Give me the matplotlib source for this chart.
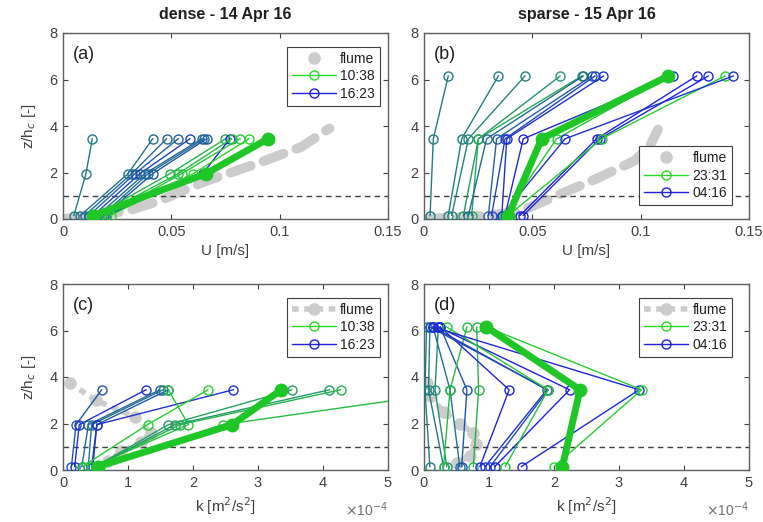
import numpy as np
import matplotlib
matplotlib.use("Agg")
import matplotlib.pyplot as plt
from matplotlib.lines import Line2D
from matplotlib.ticker import FuncFormatter

plt.rcParams['font.family'] = ['Liberation Sans', 'DejaVu Sans']

# measurement heights (z/hc)
z_dense = [0.15, 1.95, 3.45]
z_sparse = [0.15, 3.45, 6.15]

# (a) dense, U [m/s]: bottom / middle / top value, colour position (0 = first, 1 = last)
a_bot = [0.005, 0.008, 0.010, 0.012, 0.014, 0.016, 0.018, 0.019, 0.015, 0.020, 0.017, 0.020, 0.022]
a_mid = [0.0106, 0.030, 0.0317, 0.0332, 0.0355, 0.0378, 0.0394, 0.0414, 0.0494, 0.0645, 0.0532, 0.0548, 0.0601]
a_top = [0.0135, 0.0414, 0.0478, 0.0532, 0.0586, 0.064, 0.0651, 0.0663, 0.075, 0.077, 0.0778, 0.0817, 0.0858]
a_col = [0.5, 0.55, 0.6, 0.65, 0.8, 0.6, 0.55, 0.7, 0.2, 1.0, 0.15, 0.1, 0.0]
a_thick = [0.014, 0.066, 0.0946]
a_flume_u = [0.0, 0.015, 0.03, 0.045, 0.065, 0.09, 0.11, 0.123]
a_flume_z = [0.0, 0.15, 0.35, 0.8, 1.6, 2.4, 3.1, 3.9]

# (b) sparse, U [m/s]
b_bot = [0.0028, 0.0112, 0.0128, 0.0182, 0.022, 0.0205, 0.0297, 0.0312, 0.0359, 0.0374, 0.0443, 0.0458, 0.0389, 0.037, 0.036]
b_mid = [0.0043, 0.0174, 0.0205, 0.0251, 0.0251, 0.0289, 0.0335, 0.0374, 0.0382, 0.0458, 0.0797, 0.0812, 0.082, 0.0612, 0.0651]
b_top = [0.0112, 0.0343, 0.0466, 0.0628, 0.0728, 0.0735, 0.0774, 0.0789, 0.0828, 0.115, 0.1258, 0.1312, 0.1389, 0.113, 0.1427]
b_col = [0.5, 0.5, 0.45, 0.35, 0.25, 0.6, 0.65, 0.8, 0.9, 0.95, 1.0, 0.95, 0.05, 0.1, 0.9]
b_thick = [0.0389, 0.0543, 0.1128]
b_flume_u = [0.0, 0.01, 0.03, 0.045, 0.06, 0.08, 0.097, 0.104, 0.108]
b_flume_z = [0.0, 0.05, 0.15, 0.35, 0.95, 1.75, 2.5, 3.1, 3.85]

# (c) dense, k [1e-4 m2/s2]
c_bot = [0.13, 0.18, 0.29, 0.39, 0.44, 0.46, 0.30, 0.45, 0.50, 0.50, 0.50, 0.54]
c_mid = [0.20, 0.25, 0.39, 0.44, 0.52, 0.52, 1.30, 1.93, 1.62, 1.72, 1.80, 2.46]
c_top = [0.595, 1.277, 1.49, 1.54, 1.62, 2.62, 2.23, 1.62, 3.52, 4.10, 4.27, 6.24]
c_col = [0.7, 0.9, 0.6, 0.55, 0.7, 0.9, 0.05, 0.1, 0.3, 0.35, 0.2, 0.15]
c_thick = [0.54, 2.60, 3.36]
c_flume_k = [0.1, 0.5, 1.1, 1.35, 1.2, 0.9, 0.7]
c_flume_z = [3.75, 3.0, 2.3, 1.6, 1.2, 0.8, 0.4]

# (d) sparse, k [1e-4 m2/s2]
d_bot = [0.09, 0.30, 0.35, 0.55, 0.58, 0.76, 0.30, 0.86, 0.94, 1.02, 1.09, 1.25, 1.50, 2.00]
d_mid = [0.015, 0.07, 0.17, 0.40, 0.66, 0.84, 0.40, 1.31, 1.89, 1.91, 2.24, 1.91, 3.31, 3.35]
d_top = [0.04, 0.09, 0.22, 0.14, 0.25, 0.81, 0.66, 0.25, 0.14, 0.09, 0.22, 0.35, 0.14, 0.96]
d_col = [0.5, 0.5, 0.4, 0.55, 0.7, 0.2, 0.15, 0.95, 0.9, 0.75, 1.0, 0.1, 0.95, 0.05]
d_thick = [2.13, 2.40, 0.96]
d_flume_k = [0.05, 0.1, 0.3, 0.55, 0.75, 0.8, 0.7, 0.5]
d_flume_z = [3.75, 3.2, 2.5, 2.0, 1.6, 1.1, 0.6, 0.3]

legend_times = [["10:38", "16:23"], ["23:31", "04:16"]]

green = np.array([0.15, 0.85, 0.15])
blue = np.array([0.12, 0.12, 0.88])
thick_green = (0.12, 0.78, 0.15)
flume_col = (0.80, 0.80, 0.80)
axcol = '#606060'
txtcol = '#404040'


def shade(t):
    return tuple(green * (1 - t) + blue * t)


fig = plt.figure(figsize=(7.63, 5.22), dpi=100)
W, H = 763.0, 522.0
boxes = [(63, 33), (424, 33), (63, 284), (424, 284)]
axes = []
for (x0, y0) in boxes:
    ax = fig.add_axes([x0 / W, 1 - (y0 + 186) / H, 325 / W, 186 / H])
    axes.append(ax)

panels = [
    (a_bot, a_mid, a_top, a_col, a_thick, z_dense, a_flume_u, a_flume_z),
    (b_bot, b_mid, b_top, b_col, b_thick, z_sparse, b_flume_u, b_flume_z),
    (c_bot, c_mid, c_top, c_col, c_thick, z_dense, c_flume_k, c_flume_z),
    (d_bot, d_mid, d_top, d_col, d_thick, z_sparse, d_flume_k, d_flume_z),
]
letters = ['(a)', '(b)', '(c)', '(d)']

for i, (ax, p) in enumerate(zip(axes, panels)):
    bot, mid, top, col, thick, zz, fx, fz = p
    is_k = i >= 2
    if is_k:
        ax.plot(fx, fz, '--', color=flume_col, lw=4, marker='o', ms=8,
                mec=flume_col, mfc=flume_col, dashes=(1.2, 1.0), zorder=1)
    else:
        ax.plot(fx, fz, '-', color=flume_col, lw=7, dashes=(2.2, 1.4),
                dash_capstyle='round', zorder=1)
    ax.axhline(1, color='#404040', ls='--', lw=1, dashes=(4, 3), zorder=2)
    for b, m, t, c in zip(bot, mid, top, col):
        ax.plot([b, m, t], zz, '-o', color=shade(c), lw=1, ms=6.5,
                mfc='none', mew=1, zorder=3)
    ax.plot(thick, zz, '-o', color=thick_green, lw=5, ms=9, zorder=4)

    ax.set_ylim(0, 8)
    ax.set_yticks([0, 2, 4, 6, 8])
    if is_k:
        ax.set_xlim(0, 5)
        ax.set_xticks([0, 1, 2, 3, 4, 5])
        ax.set_xlabel('k [m$^2$/s$^2$]', fontsize=11, color=txtcol, labelpad=4)
        ax.text(1.0, -0.215, r'$\times$10$^{-4}$', transform=ax.transAxes,
                ha='right', va='center', fontsize=10, color='#707070')
    else:
        ax.set_xlim(0, 0.15)
        ax.set_xticks([0, 0.05, 0.1, 0.15])
        ax.xaxis.set_major_formatter(FuncFormatter(lambda v, pos: '0' if v == 0 else ('%.2f' % v).rstrip('0')))
        ax.set_xlabel('U [m/s]', fontsize=11, color=txtcol, labelpad=4)
    if i % 2 == 0:
        ax.set_ylabel('z/h$_c$ [-]', fontsize=11, color=txtcol, labelpad=8)

    ax.tick_params(direction='in', top=True, right=True, length=3.5, width=0.8,
                   colors=txtcol, labelsize=10.5, pad=4)
    for s in ax.spines.values():
        s.set_color(axcol)
        s.set_linewidth(1.0)

    ax.text(0.03, 0.93, letters[i], transform=ax.transAxes, ha='left', va='top',
            fontsize=13, color='#202020')

    times = legend_times[i % 2]
    if is_k:
        fl = Line2D([], [], color=flume_col, lw=4, ls='--', dashes=(1.2, 1.0),
                    marker='o', ms=8, mfc=flume_col, mec=flume_col)
    else:
        fl = Line2D([], [], color=flume_col, ls='none', marker='o', ms=8,
                    mfc=flume_col, mec=flume_col)
    h1 = Line2D([], [], color=shade(0), lw=1, marker='o', ms=6.5, mfc='none')
    h2 = Line2D([], [], color=shade(1), lw=1, marker='o', ms=6.5, mfc='none')
    right = 0.975 if i % 2 == 0 else 0.948
    if i == 1:
        loc, anchor = 'lower right', (right, 0.075)
    else:
        loc, anchor = 'upper right', (right, 0.925)
    leg = ax.legend([fl, h1, h2], ['flume'] + times, loc=loc, bbox_to_anchor=anchor,
                    borderaxespad=0, fontsize=10, handlelength=3.2, fancybox=False,
                    framealpha=1, edgecolor='#404040', borderpad=0.35,
                    labelspacing=0.25, handletextpad=0.3, markerfirst=True)
    leg.get_frame().set_linewidth(0.8)
    for t in leg.get_texts():
        t.set_color('#202020')

fig.text((63 + 162.5) / W, 1 - 14 / H, 'dense - 14 Apr 16', ha='center', va='center',
         fontsize=11.5, fontweight='bold', color='#202020')
fig.text((424 + 162.5) / W, 1 - 14 / H, 'sparse - 15 Apr 16', ha='center', va='center',
         fontsize=11.5, fontweight='bold', color='#202020')

fig.savefig('out.png', dpi=100)
